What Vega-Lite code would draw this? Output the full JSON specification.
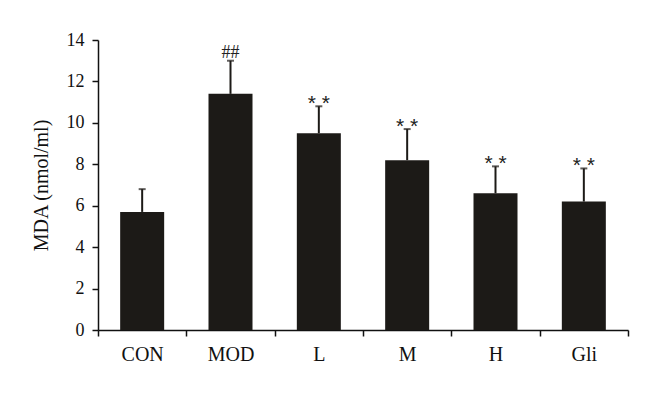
{
  "$schema": "https://vega.github.io/schema/vega-lite/v6.json",
  "autosize": {"type": "none"},
  "padding": {"left": 98, "top": 40, "right": 32, "bottom": 65},
  "width": 530,
  "height": 290,
  "background": "white",
  "config": {
    "view": {"stroke": null},
    "font": "Liberation Serif"
  },
  "data": {
    "values": [
      {"group": "CON", "mean": 5.7, "upper": 6.8, "sig": ""},
      {"group": "MOD", "mean": 11.4, "upper": 13.0, "sig": "##"},
      {"group": "L", "mean": 9.5, "upper": 10.8, "sig": "* *"},
      {"group": "M", "mean": 8.2, "upper": 9.7, "sig": "* *"},
      {"group": "H", "mean": 6.6, "upper": 7.9, "sig": "* *"},
      {"group": "Gli", "mean": 6.2, "upper": 7.8, "sig": "* *"}
    ]
  },
  "encoding": {
    "x": {
      "field": "group",
      "type": "nominal",
      "sort": null,
      "scale": {"paddingInner": 0, "paddingOuter": 0},
      "axis": {
        "title": null,
        "labelAngle": 0,
        "labelFont": "Liberation Serif",
        "labelFontSize": 20,
        "labelColor": "#111",
        "labelPadding": 8,
        "tickBand": "extent",
        "tickSize": 6,
        "tickWidth": 1.5,
        "tickColor": "#111",
        "domainColor": "#111",
        "domainWidth": 1.5
      }
    }
  },
  "layer": [
    {
      "mark": {"type": "bar", "size": 44, "color": "#1c1a17"},
      "encoding": {
        "y": {
          "field": "mean",
          "type": "quantitative",
          "scale": {"domain": [0, 14]},
          "axis": {
            "title": "MDA (nmol/ml)",
            "titleFont": "Liberation Serif",
            "titleFontSize": 20,
            "titleFontWeight": "normal",
            "titleColor": "#111",
            "titlePadding": 15,
            "values": [0, 2, 4, 6, 8, 10, 12, 14],
            "labelFont": "Liberation Serif",
            "labelFontSize": 18,
            "labelColor": "#111",
            "labelPadding": 8,
            "grid": false,
            "tickSize": 6,
            "tickWidth": 1.5,
            "tickColor": "#111",
            "domainColor": "#111",
            "domainWidth": 1.5
          }
        }
      }
    },
    {
      "mark": {"type": "rule", "color": "#1c1a17", "strokeWidth": 2},
      "encoding": {
        "y": {"field": "mean", "type": "quantitative"},
        "y2": {"field": "upper"}
      }
    },
    {
      "mark": {"type": "tick", "color": "#1c1a17", "size": 7, "thickness": 2},
      "encoding": {
        "y": {"field": "upper", "type": "quantitative"}
      }
    },
    {
      "transform": [{"filter": "datum.sig == '##'"}],
      "mark": {"type": "text", "baseline": "alphabetic", "dy": -3, "font": "Liberation Serif", "fontSize": 18, "color": "#222"},
      "encoding": {
        "y": {"field": "upper", "type": "quantitative"},
        "text": {"field": "sig"}
      }
    },
    {
      "transform": [{"filter": "datum.sig == '* *'"}],
      "mark": {"type": "text", "baseline": "alphabetic", "dy": 4, "font": "Liberation Sans", "fontSize": 21, "color": "#222"},
      "encoding": {
        "y": {"field": "upper", "type": "quantitative"},
        "text": {"field": "sig"}
      }
    }
  ]
}
